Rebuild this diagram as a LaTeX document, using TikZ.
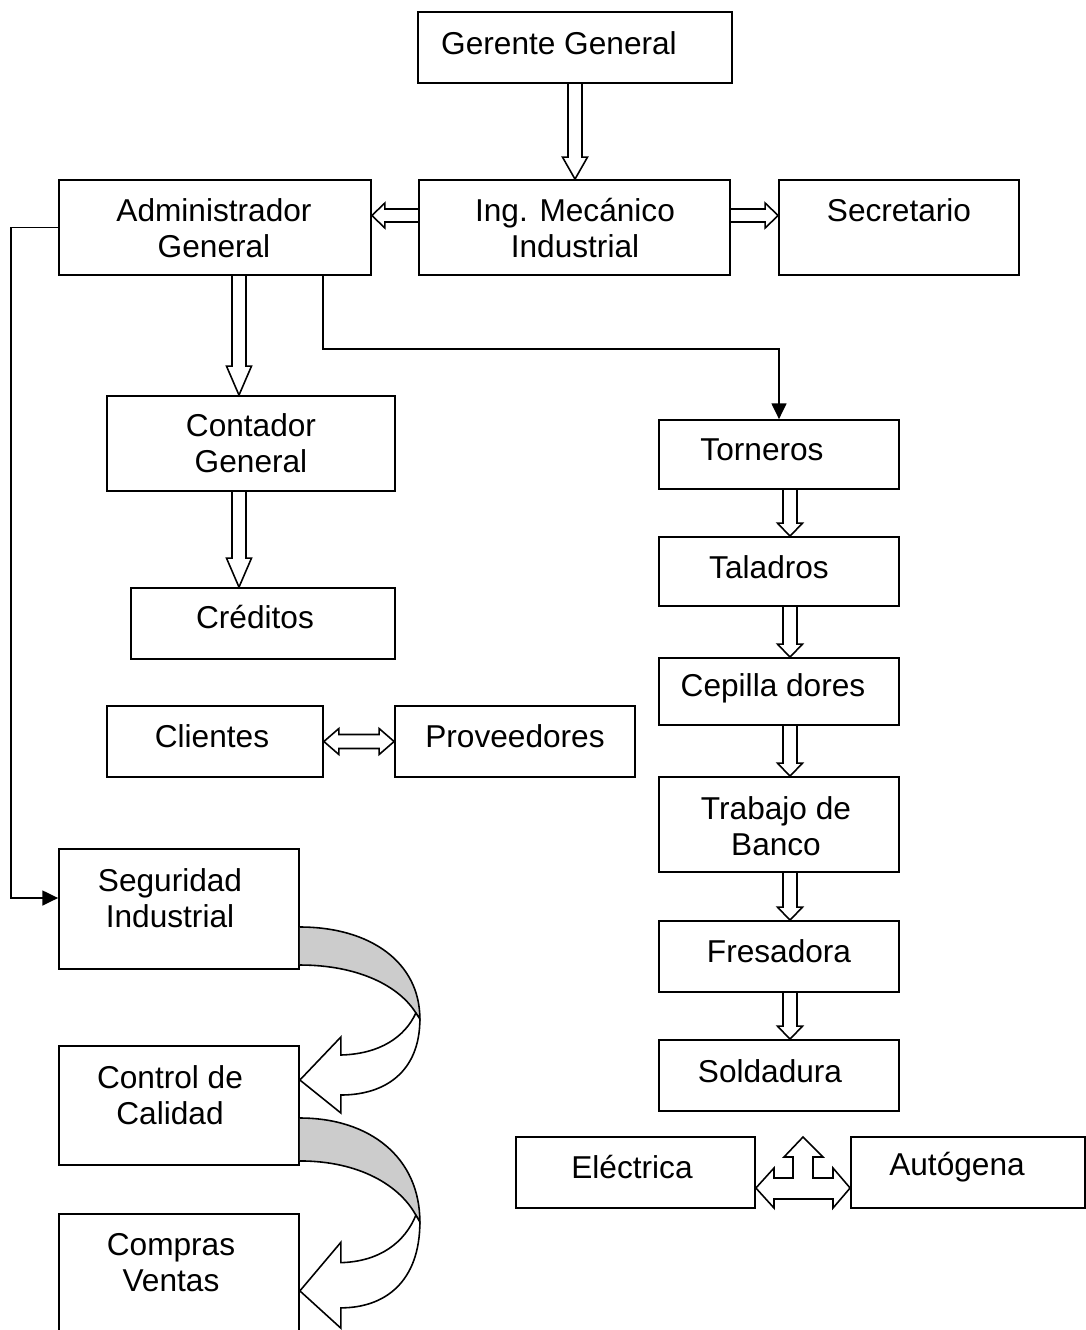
\documentclass[tikz,border=0pt]{standalone}
\usepackage{fontspec}
\setmainfont{Liberation Sans}
\usetikzlibrary{calc,arrows.meta}

\tikzset{
  box/.style 2 args={draw, line width=1pt, minimum width=#1*0.02cm, minimum height=#2*0.02cm, inner sep=0pt},
  txt/.style={align=center, inner sep=0pt, font=\fontsize{18}{20.5}\selectfont},
  blk/.style={draw, line width=0.9pt, line join=miter},
  conn/.style={line width=1pt, -{Triangle[width=8.5pt,length=9pt]}},
  band/.style={line width=0.9pt, fill=gray!40},
}

% hollow block arrows
\newcommand{\downblk}[3][20]{%
  \draw[blk] ($(#2)+(-7,0)$) -- ($(#2|-#3)+(-7,-#1)$) -- ($(#2|-#3)+(-12.5,-#1)$)
    -- (#2|-#3) -- ($(#2|-#3)+(12.5,-#1)$) -- ($(#2|-#3)+(7,-#1)$) -- ($(#2)+(7,0)$);}
\newcommand{\leftblk}[3][13]{%
  \draw[blk] ($(#2)+(0,-6.5)$) -- ($(#3|-#2)+(#1,-6.5)$) -- ($(#3|-#2)+(#1,-12.5)$)
    -- (#3|-#2) -- ($(#3|-#2)+(#1,12.5)$) -- ($(#3|-#2)+(#1,6.5)$) -- ($(#2)+(0,6.5)$);}
\newcommand{\rightblk}[3][13]{%
  \draw[blk] ($(#2)+(0,-6.5)$) -- ($(#3|-#2)+(-#1,-6.5)$) -- ($(#3|-#2)+(-#1,-12.5)$)
    -- (#3|-#2) -- ($(#3|-#2)+(-#1,12.5)$) -- ($(#3|-#2)+(-#1,6.5)$) -- ($(#2)+(0,6.5)$);}
\newcommand{\dblblk}[3][15]{%
  \draw[blk] (#2) -- ($(#2)+(#1,-13)$) -- ($(#2)+(#1,-7)$) -- ($(#3|-#2)+(-#1,-7)$)
    -- ($(#3|-#2)+(-#1,-13)$) -- (#3|-#2) -- ($(#3|-#2)+(-#1,13)$) -- ($(#3|-#2)+(-#1,7)$)
    -- ($(#2)+(#1,7)$) -- ($(#2)+(#1,13)$) -- cycle;}
% curved ribbon arrow, #1 origin on the box side, #2 vertical stretch
\newcommand{\turnarrow}[2]{%
  \begin{scope}[shift={(#1)}, yscale=#2]
    \filldraw[band] (0,0) .. controls (70,0) and (120,35) .. (120,92)
      -- (116,86) .. controls (100,60) and (60,38) .. (0,38);
    \filldraw[band, fill=white] (116,86) .. controls (105,110) and (80,127) .. (41,128)
      -- (41,110) -- (0,153) -- (41,186) -- (41,168)
      .. controls (85,168) and (120,145) .. (120,92) -- cycle;
  \end{scope}}

\begin{document}
\begin{tikzpicture}[x=0.02cm, y=-0.02cm]
  \useasboundingbox (0,0) rectangle (1086,1330);
  \clip (0,0) rectangle (1086,1330);

  % boxes
  \node[box={314}{71}] (ger) at (575,47.5) {};
  \node[box={312}{95}] (adm) at (215,227.5) {};
  \node[box={311}{95}] (ing) at (574.5,227.5) {};
  \node[box={240}{95}] (sec) at (899,227.5) {};
  \node[box={288}{95}] (con) at (251,443.5) {};
  \node[box={264}{71}] (cre) at (263,623.5) {};
  \node[box={216}{71}] (cli) at (215,741.5) {};
  \node[box={240}{71}] (pro) at (515,741.5) {};
  \node[box={240}{69}] (tor) at (779,454.5) {};
  \node[box={240}{69}] (tal) at (779,571.5) {};
  \node[box={240}{67}] (cep) at (779,691.5) {};
  \node[box={240}{95}] (tra) at (779,824.5) {};
  \node[box={240}{71}] (fre) at (779,956.5) {};
  \node[box={240}{71}] (sol) at (779,1075.5) {};
  \node[box={239}{71}] (ele) at (635.5,1172.5) {};
  \node[box={234}{71}] (aut) at (968,1172.5) {};
  \node[box={240}{120}] (seg) at (179,909) {};
  \node[box={240}{119}] (cal) at (179,1105.5) {};
  \node[box={240}{132}] (com) at (179,1280) {};

  % texts
  \node[txt] (gert) at (559,43) {Gerente General};
  \node[txt] (admt) at (214,228) {Administrador\\General};
  \node[txt] (ingt) at (575,228) {Ing. Mecánico\\Industrial};
  \node[txt] (sect) at (899,210) {Secretario};
  \node[txt] (cont) at (251,443) {Contador\\General};
  \node[txt] (cret) at (255,617) {Créditos};
  \node[txt] (clit) at (212,736) {Clientes};
  \node[txt] (prot) at (515,736) {Proveedores};
  \node[txt] (tort) at (762,450) {Torneros};
  \node[txt] (talt) at (769,567) {Taladros};
  \node[txt] (cept) at (773,688) {Cepilla dores};
  \node[txt] (trat) at (776,826) {Trabajo de\\Banco};
  \node[txt] (fret) at (779,951) {Fresadora};
  \node[txt] (solt) at (770,1071) {Soldadura};
  \node[txt] (elet) at (632,1167) {Eléctrica};
  \node[txt] (autt) at (957,1167) {Autógena};
  \node[txt] (segt) at (170,898) {Seguridad\\Industrial};
  \node[txt] (calt) at (170,1095) {Control de\\Calidad};
  \node[txt] (comt) at (171,1263) {Compras\\Ventas};

  % block arrows
  \downblk[22]{ger.south}{ing.north}
  \coordinate (i1) at ($(ing.west)+(0,-12)$);
  \coordinate (i2) at ($(ing.east)+(0,-12)$);
  \leftblk{i1}{adm.east}
  \rightblk{i2}{sec.west}
  \coordinate (a1) at ($(adm.south)+(24,0)$);
  \coordinate (c1) at ($(con.south)+(-12,0)$);
  \downblk[29]{a1}{con.north}
  \downblk[29]{c1}{cre.north}
  \dblblk{cli.east}{pro.west}
  \foreach \a/\b in {tor/tal, tal/cep, cep/tra, tra/fre, fre/sol} {
    \coordinate (\a-d) at ($(\a.south)+(11,0)$);
    \downblk[13]{\a-d}{\b.north}
  }

  % three way arrow
  \coordinate (e1) at ($(ele.east)+(0,15.5)$);
  \coordinate (e2) at (e1 -| aut.west);
  \coordinate (em) at ($(e1)!0.5!(e2)$);
  \draw[blk] (e1) -- ($(em)+(-29,-20)$) -- ($(em)+(-29,-10)$) -- ($(em)+(-10,-10)$)
    -- ($(em)+(-10,-31)$) -- ($(em)+(-19,-31)$) -- ($(em)+(0,-51)$) -- ($(em)+(20,-31)$)
    -- ($(em)+(10,-31)$) -- ($(em)+(10,-10)$) -- ($(em)+(30,-10)$) -- ($(em)+(30,-20)$)
    -- (e2) -- ($(em)+(30,20)$) -- ($(em)+(30,11)$) -- ($(em)+(-29,11)$)
    -- ($(em)+(-29,20)$) -- cycle;

  % thin connectors
  \coordinate (a2) at ($(adm.south)+(108,0)$);
  \draw[conn] (a2) -- ++(0,73) -| (tor.north);
  \coordinate (s0) at ($(seg.west)+(0,-11)$);
  \draw[conn] (adm.west) -- ++(-47,0) |- (s0);

  % curved arrows
  \coordinate (s1) at ($(seg.east)+(0,18)$);
  \coordinate (s2) at ($(cal.east)+(0,12.5)$);
  \turnarrow{s1}{1}
  \turnarrow{s2}{1.13}
\end{tikzpicture}
\end{document}
